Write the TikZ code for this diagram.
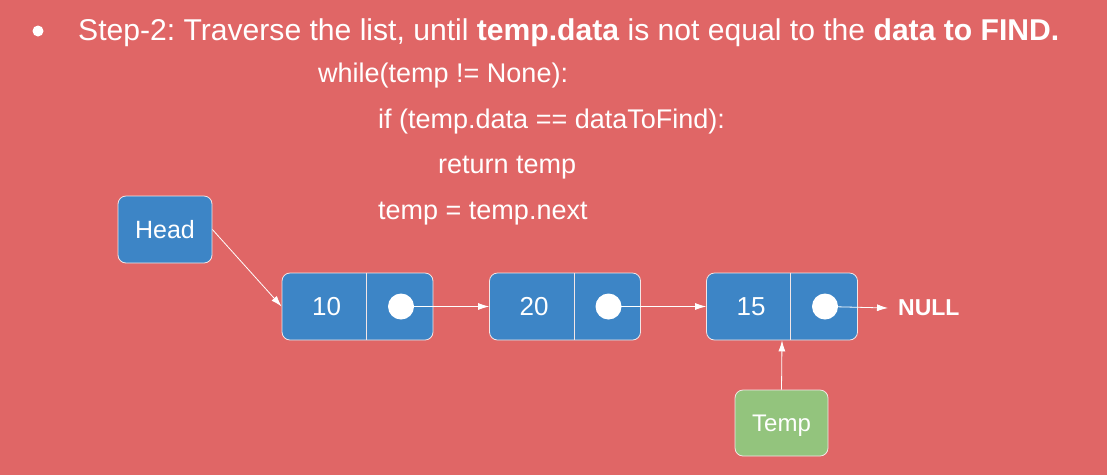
\documentclass[tikz,border=0pt]{standalone}
\usepackage{fontspec}
\setmainfont{Liberation Sans}
\usetikzlibrary{arrows.meta}
\definecolor{slidered}{HTML}{E06666}
\definecolor{boxblue}{HTML}{3D85C6}
\definecolor{boxgreen}{HTML}{93C47D}
\definecolor{edgewhite}{HTML}{F3E6E6}
\frenchspacing

\begin{document}
\begin{tikzpicture}[x=1pt,y=1pt]

\tikzset{listnode/.style = {draw=edgewhite, fill=boxblue, rounded corners=8pt, minimum width=151pt, minimum height=67pt, line width=0.8pt}}
\tikzset{pointer/.style = {draw=edgewhite, fill=boxblue, rounded corners=8pt, minimum width=94pt, minimum height=67pt, line width=0.8pt, text=white, text depth=0pt, font=\fontsize{25}{29}\selectfont}}
\tikzset{divider/.style = {edgewhite, line width=0.8pt}}
\tikzset{datatext/.style = {text=white, font=\fontsize{26}{30}\selectfont}}
\tikzset{dot/.style = {circle, fill=white, minimum size=26pt, inner sep=0pt}}
\tikzset{link/.style = {-{Latex[length=11pt,width=7pt]}, white, line width=0.8pt}}
\tikzset{codeline/.style = {anchor=base west, text=white, inner sep=0pt, font=\fontsize{27}{31}\selectfont}}

\fill[slidered] (0,0) rectangle (1107,-475);
\useasboundingbox (0,0) rectangle (1107,-475);

% heading
\node[circle, fill=white, minimum size=11pt, inner sep=0pt] (bullet) at (38,-31) {};
\node[anchor=base west, text=white, inner sep=0pt, font=\fontsize{30.1}{34}\selectfont] (title) at (78,-40)
  {Step-2: Traverse the list, until \textbf{temp.data} is not equal to the \textbf{data to FIND.}};

% code
\node[codeline] (loop) at (318,-82) {while(temp != None):};
\node[codeline] (test) at (378,-128) {if (temp.data == dataToFind):};
\node[codeline] (found) at (438,-173) {return temp};
\node[codeline] (step) at (378,-219) {temp = temp.next};

% list
\node[pointer] (head) at (165,-229.5) {Head};
\node[listnode] (n1) at (357.5,-306.5) {};
\node[listnode] (n2) at (565,-306.5) {};
\node[listnode] (n3) at (782,-306.5) {};

\draw[divider] ([xshift=85pt]n1.north west) -- ([xshift=85pt]n1.south west);
\draw[divider] ([xshift=85pt]n2.north west) -- ([xshift=85pt]n2.south west);
\draw[divider] ([xshift=84pt]n3.north west) -- ([xshift=84pt]n3.south west);

\node[datatext] (v1) at ([xshift=-31pt]n1.center) {10};
\node[datatext] (v2) at ([xshift=-31pt]n2.center) {20};
\node[datatext] (v3) at ([xshift=-31pt]n3.center) {15};

\node[dot] (c1) at ([xshift=43.5pt]n1.center) {};
\node[dot] (c2) at ([xshift=43.5pt]n2.center) {};
\node[dot] (c3) at ([xshift=43pt]n3.center) {};

\node[anchor=west, text=white, inner sep=0pt, font=\fontsize{23}{27}\selectfont\bfseries] (null) at (898,-308) {NULL};

\node[pointer, fill=boxgreen, minimum width=93pt, minimum height=66pt, font=\fontsize{24}{28}\selectfont] (temp) at (781.5,-423) {Temp};

\draw[link] (head.east) -- (n1.west);
\draw[link] (c1.center) -- (n2.west);
\draw[link] (c2.center) -- (n3.west);
\draw[link] (c3.center) -- ([xshift=-10pt]null.west);
\draw[link] (temp.north) -- (n3.south);

\end{tikzpicture}
\end{document}
